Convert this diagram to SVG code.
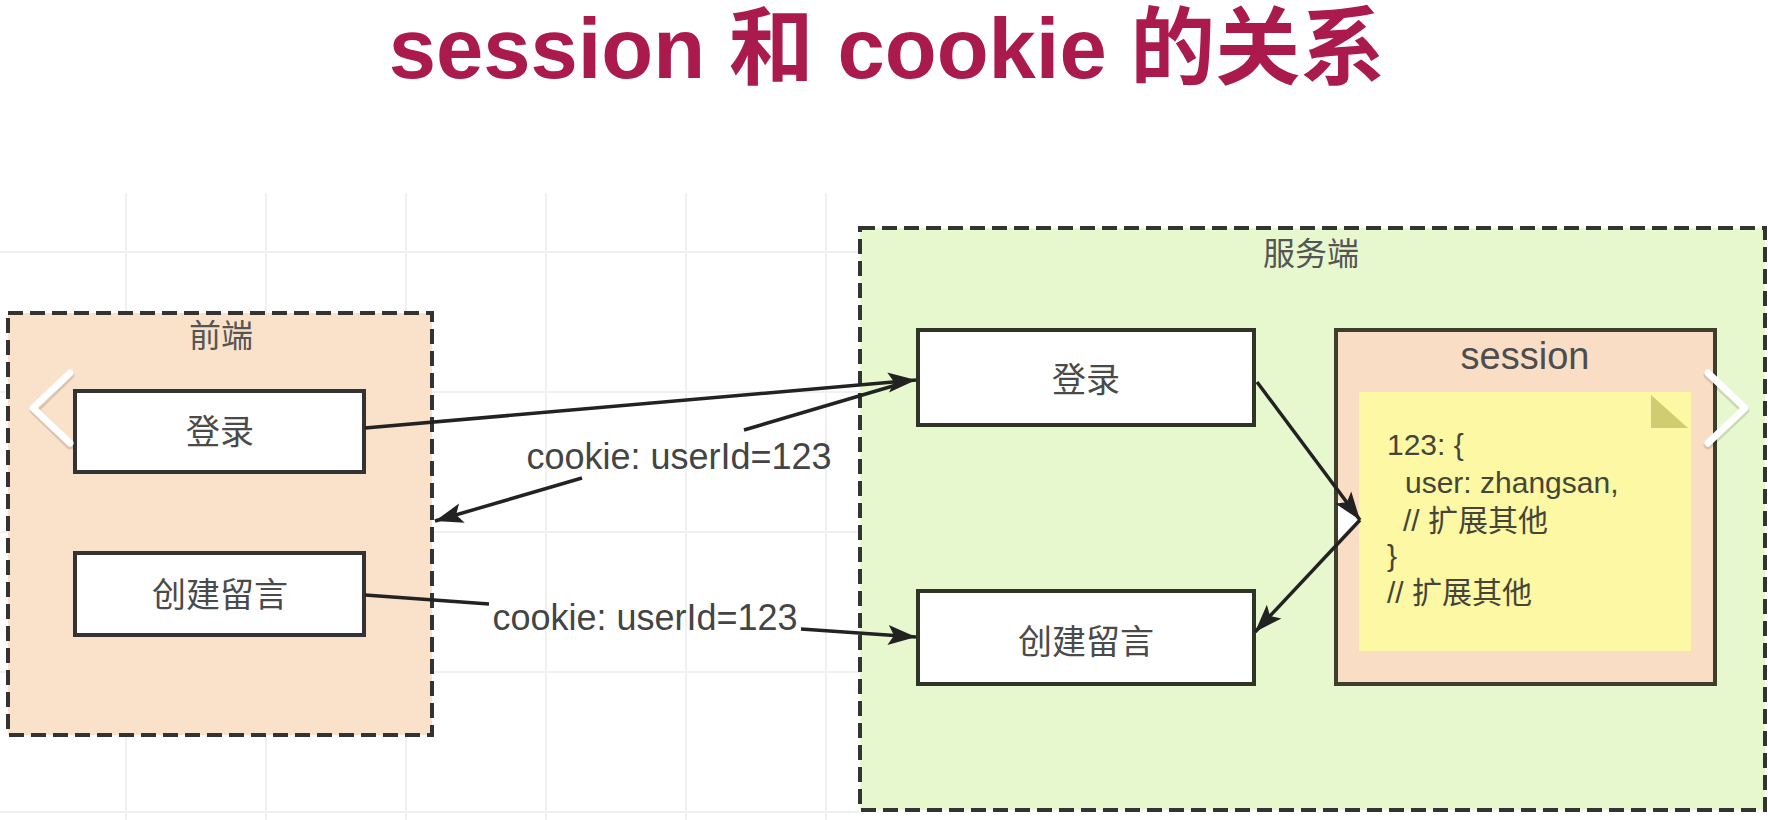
<svg xmlns="http://www.w3.org/2000/svg" width="1768" height="820" viewBox="0 0 1768 820">
<defs>
<style>
.grid{stroke:#f0f0f0;stroke-width:2;fill:none}
.title{font-family:"Liberation Sans","Noto Sans CJK SC",sans-serif;font-weight:bold;font-size:85px;fill:#aa1a4d}
.cont{stroke:#333;stroke-width:4;stroke-dasharray:15 7}
.clabel{font-family:"Liberation Sans","Noto Sans CJK SC",sans-serif;font-size:32px;fill:#555;text-anchor:middle}
.box{fill:#fff;stroke:#333;stroke-width:4}
.sbox{fill:#fff;stroke:#2e3527;stroke-width:4}
.blabel{font-family:"Liberation Sans","Noto Sans CJK SC",sans-serif;font-size:34px;fill:#4a4a4a;text-anchor:middle}
.elabel{font-family:"Liberation Sans","Noto Sans CJK SC",sans-serif;font-size:36px;fill:#444;text-anchor:middle}
.note{font-family:"Liberation Sans","Noto Sans CJK SC",sans-serif;font-size:30px;fill:#45453a}
.edge{stroke:#222;stroke-width:3.5;fill:none}
.chev{fill:none;stroke:#fff;stroke-width:7;stroke-linecap:round;stroke-linejoin:round}
.chevs{fill:none;stroke:#000;stroke-opacity:0.12;stroke-width:9;stroke-linecap:round;stroke-linejoin:round}
</style>
<marker id="arr" markerUnits="userSpaceOnUse" markerWidth="32" markerHeight="24" refX="28" refY="11" orient="auto" viewBox="0 0 32 22">
<path d="M0,1 L28,11 L0,21 L6,11 Z" fill="#222"/>
</marker>
</defs>
<rect width="1768" height="820" fill="#fff"/>
<g id="grid">
<path class="grid" d="M126,193V820M266,193V820M406,193V820M546,193V820M686,193V820M826,193V820M0,252H860M0,392H860M0,532H860M0,672H860M0,812H860"/>
</g>
<g id="title">
<text class="title" x="887" y="78" text-anchor="middle">session 和 cookie 的关系</text>
</g>
<g id="frontend">
<rect class="cont" x="8" y="313" width="424" height="422" fill="#fae1c9"/>
<text class="clabel" x="221" y="347">前端</text>
</g>
<g id="fe-login">
<rect class="box" x="75" y="391" width="289" height="81"/>
<text class="blabel" x="220" y="444">登录</text>
</g>
<g id="fe-create">
<rect class="box" x="75" y="553" width="289" height="82"/>
<text class="blabel" x="220" y="607">创建留言</text>
</g>
<g id="server">
<rect class="cont" x="860" y="228" width="905" height="582" fill="#e7f8cf"/>
<text class="clabel" x="1311" y="265">服务端</text>
</g>
<g id="srv-login">
<rect class="sbox" x="918" y="330" width="336" height="95"/>
<text class="blabel" x="1086" y="392">登录</text>
</g>
<g id="srv-create">
<rect class="sbox" x="918" y="591" width="336" height="93"/>
<text class="blabel" x="1086" y="654">创建留言</text>
</g>
<g id="session">
<rect x="1336" y="330" width="379" height="354" fill="#f9ddc5" stroke="#3d3f2c" stroke-width="4"/>
<text x="1525" y="369" text-anchor="middle" font-family="Liberation Sans, sans-serif" font-size="38" fill="#4d4d4d">session</text>
<rect x="1359" y="392" width="332" height="259" fill="#fcf8a4"/>
<path d="M1651,395 L1688,428 L1651,428 Z" fill="#cfcc72"/>
<text class="note" x="1387" y="455">123: {</text>
<text class="note" x="1405" y="493">user: zhangsan,</text>
<text class="note" x="1403" y="531">// 扩展其他</text>
<text class="note" x="1387" y="566">}</text>
<text class="note" x="1387" y="603">// 扩展其他</text>
</g>
<g id="connectors">
<path d="M1338,500 L1358,520 L1338,540 Z" fill="#fff"/>
<path class="edge" d="M365,428 L916,380" marker-end="url(#arr)"/>
<path class="edge" d="M903,383 L744,430 M582,478 L435,521" marker-end="url(#arr)"/>
<path class="edge" d="M365,595 L489,604 M801,629 L916,637" marker-end="url(#arr)"/>
<path class="edge" d="M1257,382 L1360,520" marker-end="url(#arr)"/>
<path class="edge" d="M1360,520 L1255,632" marker-end="url(#arr)"/>
<text class="elabel" x="679" y="469">cookie: userId=123</text>
<text class="elabel" x="645" y="630">cookie: userId=123</text>
</g>
<g id="carousel">
<path class="chevs" d="M70,375 L34,410 L70,445"/>
<path class="chev" d="M70,373 L33,408 L70,443"/>
<path class="chevs" d="M1708,375 L1745,410 L1708,445"/>
<path class="chev" d="M1708,373 L1745,408 L1708,443"/>
</g>
</svg>
